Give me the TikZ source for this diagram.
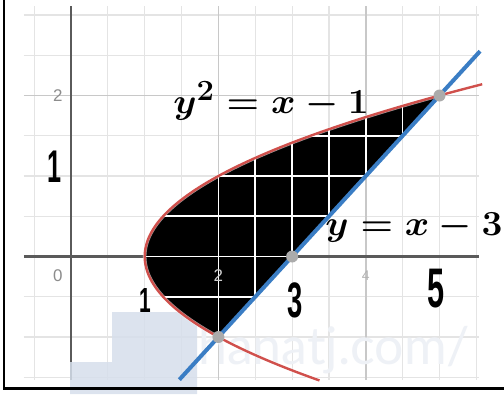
\documentclass[tikz,border=0pt]{standalone}
\usepackage[no-math]{fontspec}
\newfontfamily\sansf{Liberation Sans}
\newfontfamily\wmfont{Lato}
\definecolor{gminor}{HTML}{E4E4E4}
\definecolor{gmajor}{HTML}{C8C8C8}
\definecolor{gaxis}{HTML}{5A5A5A}
\definecolor{dred}{HTML}{D0504C}
\definecolor{dblue}{HTML}{3A7DC4}
\definecolor{wmblue}{HTML}{D6DFEC}
\definecolor{wmtext}{HTML}{EEF1F6}
\definecolor{ptgray}{HTML}{ABABAB}
\tikzset{
  minorline/.style={gminor, line width=1.1bp},
  majorline/.style={gmajor, line width=1.4bp},
  axisline/.style={gaxis, line width=2.4bp},
  innerline/.style={white, line width=1.6bp},
  tick/.style={font=\sansf\fontsize{17}{17}\selectfont, text=gray!90, inner sep=0},
  hand/.style={font=\sansf\bfseries, inner sep=0, text=black},
  eqlabel/.style={inner sep=0, xscale=1.5, yscale=1.42, font=\Huge\boldmath},
  pt/.style={fill=ptgray, draw=none},
}
\begin{document}
\begin{tikzpicture}[x=1bp,y=-1bp]
\useasboundingbox (0,0) rectangle (504,394);
\fill[white] (0,0) rectangle (504,394);
\begin{scope}[shift={(71,256.5)},x=73.7bp,y=80.5bp]
  % grid
  \foreach \v in {-0.5,0.5,1,1.5,2.5,3,3.5,4.5,5,5.5}
    \draw[minorline] (\v,-1.53) -- (\v,3.11);
  \foreach \h in {-1.5,-1,-0.5,0.5,1,1.5,2.5,3}
    \draw[minorline] (-0.64,\h) -- (5.54,\h);
  \foreach \v in {2,4}
    \draw[majorline] (\v,-1.53) -- (\v,3.11);
  \draw[majorline] (-0.64,2) -- (5.54,2);
  \draw[axisline] (0,-1.53) -- (0,3.11);
  \draw[axisline] (-0.64,0) -- (5.54,0);
\end{scope}
% watermark
\fill[wmblue, opacity=0.85] (70,394) -- (70,362) -- (112,362) -- (112,312) -- (197,312) -- (197,394) -- cycle;
\node[anchor=base west, inner sep=0, text=wmtext, font=\wmfont\fontsize{52}{52}\selectfont] (wm) at (198,364) {hanatj.com/};
\begin{scope}[shift={(71,256.5)},x=73.7bp,y=80.5bp]
  \fill[black] plot[domain=-1:2, samples=80, variable=\t] ({\t*\t+1},{\t}) -- cycle;
  \begin{scope}
    \clip plot[domain=-1:2, samples=80, variable=\t] ({\t*\t+1},{\t}) -- cycle;
    \foreach \v in {2,2.5,3,3.5,4,4.5}
      \draw[innerline] (\v,-1.2) -- (\v,2.2);
    \foreach \h in {-0.5,0,0.5,1,1.5}
      \draw[innerline] (0.8,\h) -- (5.2,\h);
  \end{scope}
  \node[tick] (t0) at (-0.18,-0.24) {0};
  \node[tick, text=gray!40] (t2) at (2,-0.24) {2};
  \node[tick, text=gray!60, font=\sansf\fontsize{14}{14}\selectfont] (t4) at (4,-0.24) {4};
  \node[tick] (ty2) at (-0.18,2) {2};
  \draw[white, line width=3.5bp, opacity=0.6] plot[domain=-1.54:2.14, samples=100, variable=\t] ({\t*\t+1},{\t});
  \draw[dred, line width=2.4bp] plot[domain=-1.54:2.14, samples=100, variable=\t] ({\t*\t+1},{\t});
  \coordinate (b1) at (1.47,-1.53);
  \coordinate (b2) at (5.55,2.55);
  \draw[dblue, line width=4bp] (b1) -- (b2);
  \fill[pt] (2,-1) circle (6bp);
  \fill[pt] (3,0) circle (6bp);
  \fill[pt] (5,2) circle (6bp);
\end{scope}
% frame
\draw[black, line width=2.4bp] (4,0) -- (4,388.5) -- (504,388.5);
% labels
\node[eqlabel, anchor=base west] (e1) at (173,113) {$y^2 = x - 1$};
\node[eqlabel, anchor=base west] (e2) at (325,235) {$y = x - 3$};
% handwritten marks
\node[hand, font=\sansf\bfseries\fontsize{46}{46}\selectfont, xscale=0.55] (h1) at (55,167) {1};
\node[hand, font=\sansf\bfseries\fontsize{35}{35}\selectfont, xscale=0.6] (h2) at (145,300) {1};
\node[hand, font=\sansf\bfseries\fontsize{50}{50}\selectfont, xscale=0.55] (h3) at (295,300) {3};
\node[hand, font=\sansf\bfseries\fontsize{56}{56}\selectfont, xscale=0.55] (h5) at (436,289) {5};
\end{tikzpicture}
\end{document}
